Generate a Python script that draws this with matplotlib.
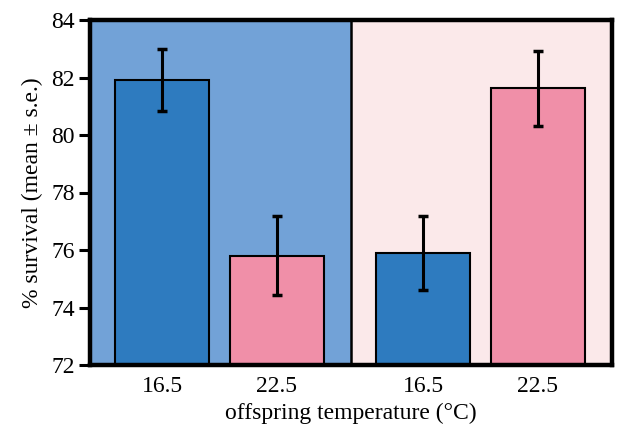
import matplotlib
matplotlib.use("Agg")
import matplotlib.pyplot as plt

# data
offspring_labels = ["16.5", "22.5", "16.5", "22.5"]
survival_mean = [81.9, 75.8, 75.9, 81.62]
survival_se = [1.08, 1.37, 1.3, 1.3]

plt.rcParams['font.family'] = ['Liberation Serif', 'DejaVu Serif']

blue_bg = "#72a2d7"
pink_bg = "#fbe9ea"
blue_bar = "#2e7bbf"
pink_bar = "#f08fa8"

fig = plt.figure(figsize=(6.17, 4.30), dpi=100)
ax = fig.add_axes([90/617, 1-365/430, 522/617, 345/430])

gap = 2.28
positions = [0, 1, 0 + gap, 1 + gap]
colors = [blue_bar, pink_bar, blue_bar, pink_bar]
xmin, xmax = -0.63, 1 + gap + 0.65

ax.axvspan(xmin, 1.65, color=blue_bg, zorder=0, lw=0)
ax.axvspan(1.65, xmax, color=pink_bg, zorder=0, lw=0)
ax.axvline(1.65, color="black", lw=1.8, zorder=1)

ax.bar(positions, [m - 72 for m in survival_mean], bottom=72, width=0.82,
       color=colors, edgecolor="black", linewidth=1.5, zorder=2)
ax.errorbar(positions, survival_mean, yerr=survival_se, fmt="none",
            ecolor="black", elinewidth=2.2, capsize=3.5, capthick=2.5, zorder=3)

ax.set_xlim(xmin, xmax)
ax.set_ylim(72, 84)
ax.set_yticks([72, 74, 76, 78, 80, 82, 84])
ax.set_xticks(positions)
ax.set_xticklabels(offspring_labels)
ax.tick_params(axis="y", direction="out", length=8, width=2.2, labelsize=17, pad=3)
ax.tick_params(axis="x", length=0, labelsize=17, pad=8)
for s in ax.spines.values():
    s.set_linewidth(3.2)
ax.set_ylabel("% survival (mean ± s.e.)", fontsize=17, labelpad=6)
ax.set_xlabel("offspring temperature (°C)", fontsize=17, labelpad=4)

fig.savefig("out.png", dpi=100)
